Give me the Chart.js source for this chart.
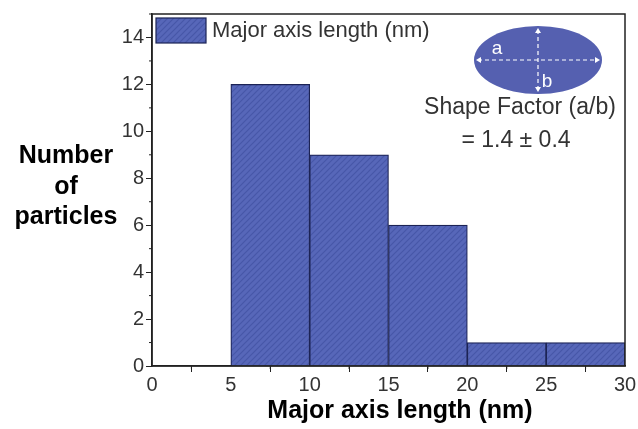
<!DOCTYPE html>
<html>
<head>
<meta charset="utf-8">
<script src="https://cdn.jsdelivr.net/npm/chart.js@4/dist/chart.umd.min.js"></script>
<style>
  html, body { margin: 0; padding: 0; background: #fff; }
  #wrap { width: 638px; height: 429px; position: relative; }
</style>
</head>
<body>
<div id="wrap"><canvas id="histChart" width="638" height="429"></canvas></div>
<script>
// histogram data
const binEdges = [5, 10, 15, 20, 25, 30];
const counts = [12, 9, 6, 1, 1];
const xTicks = [0, 5, 10, 15, 20, 25, 30];
const yTicks = [0, 2, 4, 6, 8, 10, 12, 14];
const seriesLabel = 'Major axis length (nm)';
const xTitle = 'Major axis length (nm)';
const yTitle = ['Number', 'of', 'particles'];
const shapeText = ['Shape Factor (a/b)', '= 1.4 \u00b1 0.4'];

const FONT = '"Liberation Sans", Arial, sans-serif';
const BAR_BASE = '#5767b9';
const BAR_LINE = '#4757a8';
const EDGE = '#1c2355';

// diagonal hatch like the original figure
function makeHatch() {
    const s = 6;
    const c = document.createElement('canvas');
    c.width = s; c.height = s;
    const g = c.getContext('2d');
    g.fillStyle = BAR_BASE;
    g.fillRect(0, 0, s, s);
    g.strokeStyle = BAR_LINE;
    g.lineWidth = 1.2;
    g.beginPath();
    g.moveTo(0, s); g.lineTo(s, 0);
    g.moveTo(-1, 1); g.lineTo(1, -1);
    g.moveTo(s - 1, s + 1); g.lineTo(s + 1, s - 1);
    g.stroke();
    return g.createPattern(c, 'repeat');
}

document.addEventListener('DOMContentLoaded', function() {
    const ctx = document.getElementById('histChart').getContext('2d');
    const hatch = makeHatch();

    const points = counts.map((n, i) => ({ x: (binEdges[i] + binEdges[i + 1]) / 2, y: n }));

    // frame, minor ticks, titles, legend and the ellipse inset
    const extras = {
        id: 'extras',
        afterDraw(chart) {
            const c = chart.ctx;
            const a = chart.chartArea;
            const xs = chart.scales.x, ys = chart.scales.y;
            c.save();

            // box frame
            c.strokeStyle = '#222';
            c.lineWidth = 1.5;
            c.strokeRect(a.left, a.top, a.right - a.left, a.bottom - a.top);

            // minor ticks
            c.lineWidth = 1;
            c.beginPath();
            for (let i = 0; i < xTicks.length - 1; i++) {
                const px = xs.getPixelForValue((xTicks[i] + xTicks[i + 1]) / 2);
                c.moveTo(px, a.bottom); c.lineTo(px, a.bottom + 3);
            }
            for (let i = 0; i < yTicks.length; i++) {
                const py = ys.getPixelForValue(yTicks[i] + 1);
                if (py < a.top) continue;
                c.moveTo(a.left, py); c.lineTo(a.left - 3, py);
            }
            c.stroke();

            // axis titles
            c.fillStyle = '#000';
            c.font = 'bold 25px ' + FONT;
            c.textAlign = 'center';
            c.textBaseline = 'middle';
            c.fillText(xTitle, 400, 411);
            const yLines = [156, 187, 217];
            yTitle.forEach((t, i) => c.fillText(t, 66, yLines[i]));

            // legend
            c.fillStyle = hatch;
            c.fillRect(156, 18, 50, 25);
            c.strokeStyle = EDGE;
            c.lineWidth = 1.2;
            c.strokeRect(156, 18, 50, 25);
            c.fillStyle = '#333';
            c.font = '22px ' + FONT;
            c.textAlign = 'left';
            c.fillText(chart.data.datasets[0].label, 212, 31);

            // ellipse inset
            const ex = 538, ey = 60, rx = 64, ry = 34;
            c.fillStyle = '#5560b0';
            c.beginPath();
            c.ellipse(ex, ey, rx, ry, 0, 0, Math.PI * 2);
            c.fill();
            c.strokeStyle = '#fff';
            c.lineWidth = 1.2;
            c.setLineDash([4, 3]);
            c.beginPath();
            c.moveTo(ex - rx + 4, ey); c.lineTo(ex + rx - 4, ey);
            c.moveTo(ex, ey - ry + 4); c.lineTo(ex, ey + ry - 4);
            c.stroke();
            c.setLineDash([]);
            c.fillStyle = '#fff';
            const arrow = (x, y, dx, dy) => {
                c.beginPath();
                c.moveTo(x, y);
                c.lineTo(x - dx * 5 - dy * 3, y - dy * 5 - dx * 3);
                c.lineTo(x - dx * 5 + dy * 3, y - dy * 5 + dx * 3);
                c.closePath();
                c.fill();
            };
            arrow(ex - rx + 2, ey, -1, 0);
            arrow(ex + rx - 2, ey, 1, 0);
            arrow(ex, ey - ry + 2, 0, -1);
            arrow(ex, ey + ry - 2, 0, 1);
            c.font = '19px ' + FONT;
            c.textAlign = 'center';
            c.fillText('a', 497, 49);
            c.fillText('b', 547, 82);

            // shape factor text
            c.fillStyle = '#333';
            c.font = '23px ' + FONT;
            c.fillText(shapeText[0], 520, 108);
            c.fillText(shapeText[1], 516, 141);
            c.restore();
        }
    };

    new Chart(ctx, {
        type: 'bar',
        data: {
            datasets: [{
                label: seriesLabel,
                data: points,
                backgroundColor: hatch,
                borderColor: EDGE,
                borderWidth: 1.2,
                barPercentage: 1,
                categoryPercentage: 1,
                grouped: false
            }]
        },
        options: {
            responsive: false,
            animation: false,
            layout: { padding: { left: 0, right: 13, top: 14, bottom: 0 } },
            plugins: { legend: { display: false }, tooltip: { enabled: false } },
            scales: {
                x: {
                    type: 'linear',
                    min: 0, max: 30,
                    offset: false,
                    afterBuildTicks: s => { s.ticks = xTicks.map(v => ({ value: v })); },
                    afterFit: s => { s.height = 63; },
                    grid: { drawOnChartArea: false, tickLength: 6, color: '#222', tickColor: '#222' },
                    border: { display: true, color: '#222', width: 1.5 },
                    ticks: { color: '#333', font: { family: FONT, size: 20 }, padding: 1, maxRotation: 0, autoSkip: false }
                },
                y: {
                    min: 0, max: 15,
                    afterBuildTicks: s => { s.ticks = yTicks.map(v => ({ value: v })); },
                    afterFit: s => { s.width = 152; },
                    grid: { drawOnChartArea: false, tickLength: 6, color: '#222', tickColor: '#222' },
                    border: { display: true, color: '#222', width: 1.5 },
                    ticks: { color: '#333', font: { family: FONT, size: 20 }, padding: 2, autoSkip: false }
                }
            }
        },
        plugins: [extras]
    });
});
</script>
</body>
</html>
